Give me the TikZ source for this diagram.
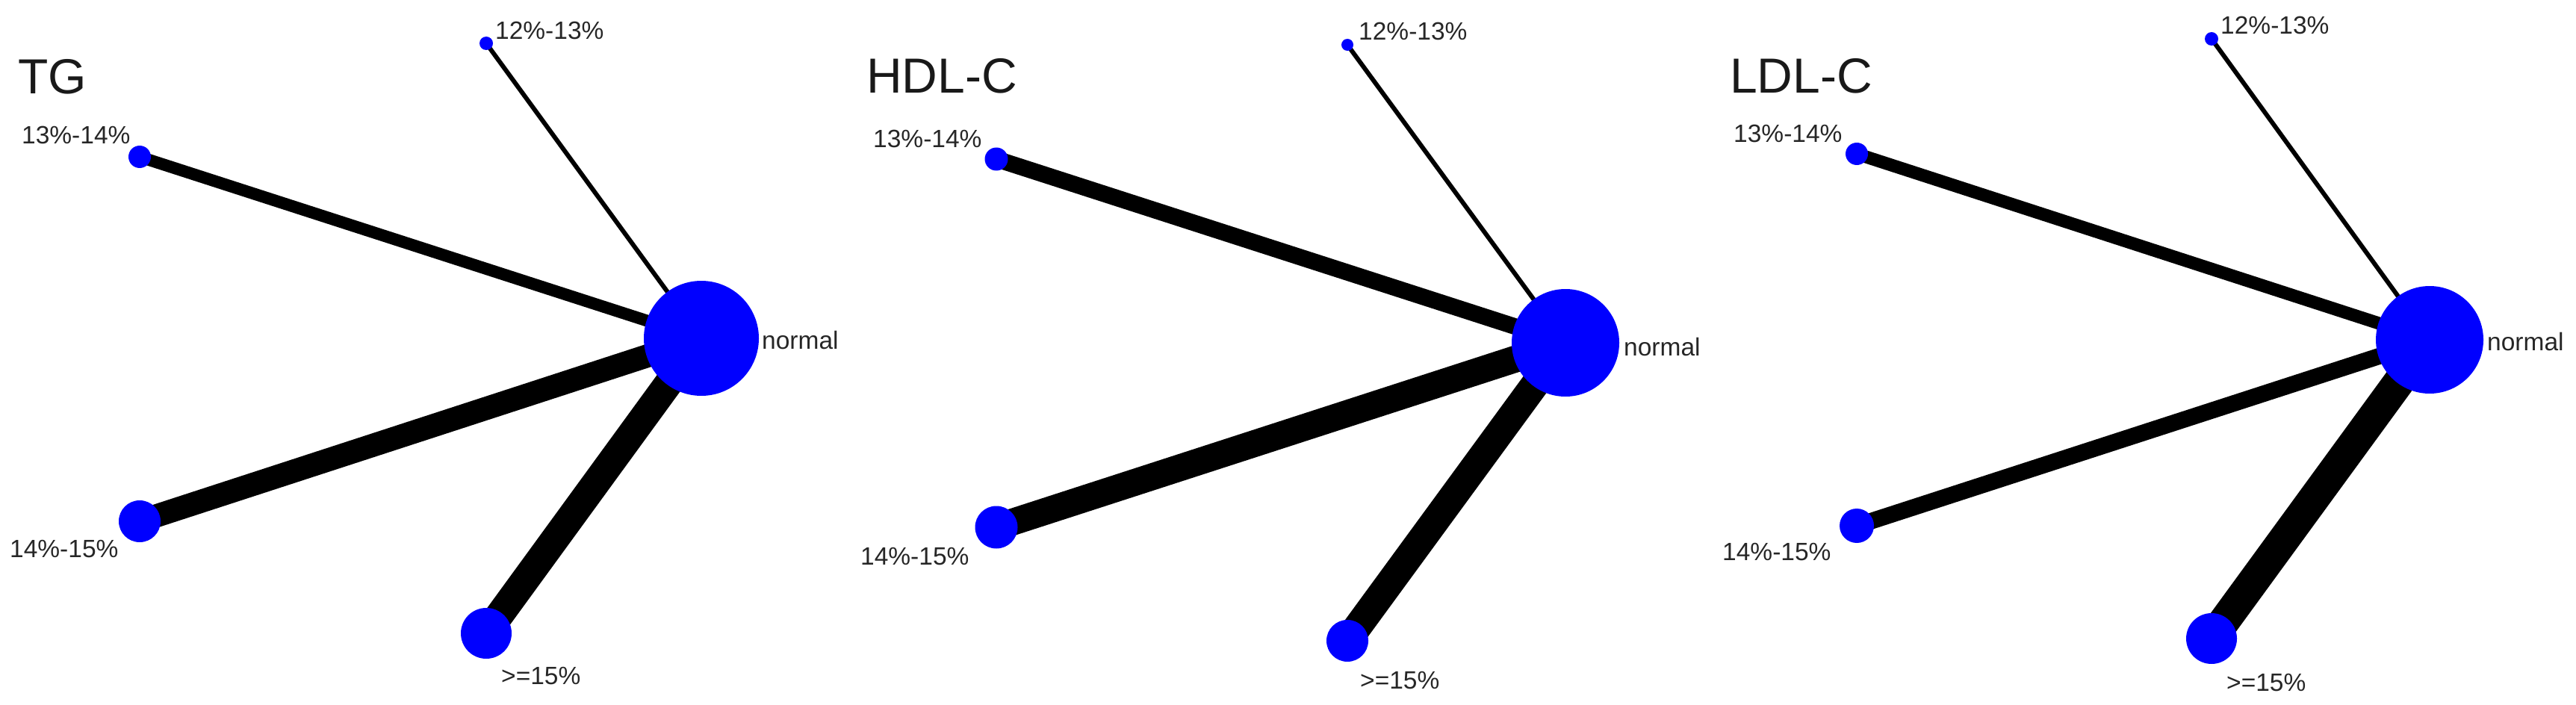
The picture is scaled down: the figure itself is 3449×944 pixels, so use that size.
\documentclass[tikz,border=0pt]{standalone}
\usepackage{fontspec}
\setmainfont{Liberation Sans}
\pgfdeclarelayer{bg}
\pgfsetlayers{bg,main}
\tikzset{
  vert/.style={circle, fill=blue, draw=none, inner sep=0pt, minimum size=#1},
  lbl/.style={anchor=base west, inner sep=0pt, text=black!85, font=\fontsize{33.5}{40}\selectfont},
  ttl/.style={anchor=base west, inner sep=0pt, text=black!90, font=\fontsize{66}{78}\selectfont},
  link/.style={line width=#1, draw=black},
}
\begin{document}
\begin{tikzpicture}[x=1pt,y=-1pt]
\useasboundingbox (0,0) rectangle (3449,944);
% ---------- Panel 1: TG ----------
\node[vert=18pt]  (a1) at (651,58) {};
\node[vert=30pt]  (b1) at (187,210) {};
\node[vert=154pt] (n1) at (939,453) {};
\node[vert=56pt]  (c1) at (187,698) {};
\node[vert=68pt]  (d1) at (651,848) {};
\begin{pgfonlayer}{bg}
\draw[link=6pt]  (a1.center) -- (n1.center);
\draw[link=16pt] (b1.center) -- (n1.center);
\draw[link=31pt] (c1.center) -- (n1.center);
\draw[link=38pt] (d1.center) -- (n1.center);
\end{pgfonlayer}
\node[ttl] (t1) at (24,126) {TG};
\node[lbl] (la1) at (663,53) {12\%-13\%};
\node[lbl] (lb1) at (29,193) {13\%-14\%};
\node[lbl] (ln1) at (1020,467) {normal};
\node[lbl] (lc1) at (13,746) {14\%-15\%};
\node[lbl] (ld1) at (671,916) {>=15\%};
% ---------- Panel 2: HDL-C ----------
\node[vert=16pt]  (a2) at (1804,60) {};
\node[vert=31pt]  (b2) at (1334,213) {};
\node[vert=144pt] (n2) at (2096,459) {};
\node[vert=57pt]  (c2) at (1334,706) {};
\node[vert=56pt]  (d2) at (1804,858) {};
\begin{pgfonlayer}{bg}
\draw[link=6pt]  (a2.center) -- (n2.center);
\draw[link=22pt] (b2.center) -- (n2.center);
\draw[link=36pt] (c2.center) -- (n2.center);
\draw[link=38pt] (d2.center) -- (n2.center);
\end{pgfonlayer}
\node[ttl] (t2) at (1160,125) {HDL-C};
\node[lbl] (la2) at (1819,54) {12\%-13\%};
\node[lbl] (lb2) at (1169,197) {13\%-14\%};
\node[lbl] (ln2) at (2174,476) {normal};
\node[lbl] (lc2) at (1152,756) {14\%-15\%};
\node[lbl] (ld2) at (1821,922) {>=15\%};
% ---------- Panel 3: LDL-C ----------
\node[vert=18pt]  (a3) at (2961,52) {};
\node[vert=30pt]  (b3) at (2486,206) {};
\node[vert=144pt] (n3) at (3253,455) {};
\node[vert=46pt]  (c3) at (2486,704) {};
\node[vert=68pt]  (d3) at (2961,855) {};
\begin{pgfonlayer}{bg}
\draw[link=6pt]  (a3.center) -- (n3.center);
\draw[link=17pt] (b3.center) -- (n3.center);
\draw[link=22pt] (c3.center) -- (n3.center);
\draw[link=42pt] (d3.center) -- (n3.center);
\end{pgfonlayer}
\node[ttl] (t3) at (2316,125) {LDL-C};
\node[lbl] (la3) at (2973,46) {12\%-13\%};
\node[lbl] (lb3) at (2321,190) {13\%-14\%};
\node[lbl] (ln3) at (3330,469) {normal};
\node[lbl] (lc3) at (2306,750) {14\%-15\%};
\node[lbl] (ld3) at (2981,925) {>=15\%};
\end{tikzpicture}
\end{document}
